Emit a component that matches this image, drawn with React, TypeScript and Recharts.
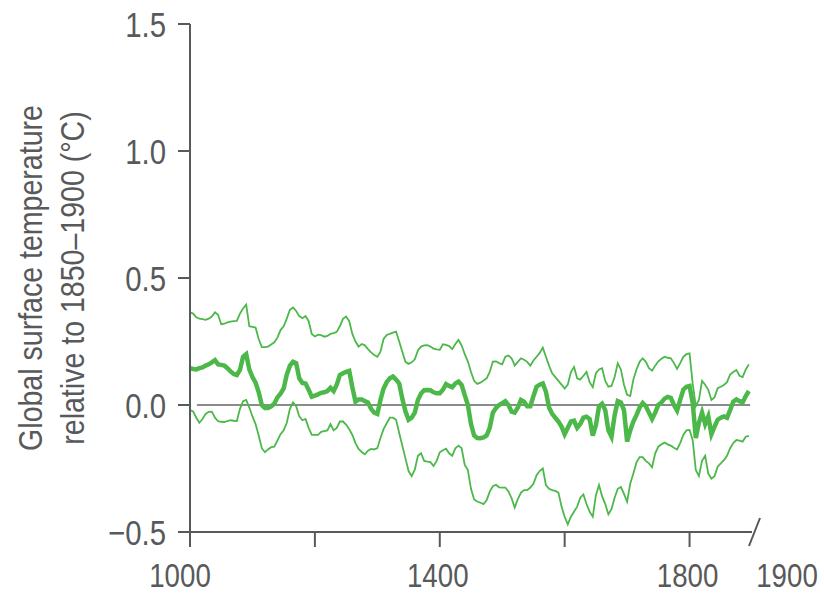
import { Label, Line, LineChart, ReferenceLine, XAxis, YAxis } from "recharts";

const YEARS = Array.from({ length: 180 }, (_, i) => 1000 + i * 5);

const MEDIAN = [
  0.145, 0.142, 0.14, 0.145, 0.148, 0.155, 0.16, 0.168, 0.177, 0.16,
  0.158, 0.155, 0.145, 0.132, 0.122, 0.118, 0.138, 0.19, 0.2, 0.14,
  0.11, 0.088, 0.05, 0.0, -0.012, -0.012, -0.005, 0.005, 0.03, 0.045,
  0.065, 0.12, 0.155, 0.17, 0.165, 0.105, 0.087, 0.085, 0.06, 0.033,
  0.037, 0.042, 0.048, 0.05, 0.055, 0.068, 0.055, 0.08, 0.118, 0.125,
  0.13, 0.134, 0.07, 0.013, 0.022, 0.022, 0.015, 0.01, -0.015, -0.03,
  -0.035, 0.02, 0.065, 0.09, 0.105, 0.112, 0.1, 0.085, 0.025, -0.025,
  -0.058, -0.05, -0.03, 0.02, 0.045, 0.058, 0.059, 0.058, 0.05, 0.046,
  0.046, 0.06, 0.082, 0.075, 0.07, 0.085, 0.092, 0.079, 0.039, 0.0,
  -0.075, -0.12, -0.13, -0.131, -0.128, -0.12, -0.09, -0.03, -0.012, 0.0,
  0.007, 0.015, 0.0, -0.026, -0.03, -0.01, 0.02, 0.013, -0.005, -0.005,
  0.035, 0.072, 0.08, 0.085, 0.052, -0.01, -0.035, -0.05, -0.065, -0.085,
  -0.115, -0.09, -0.065, -0.062, -0.09, -0.075, -0.05, -0.046, -0.055, -0.12,
  -0.08, -0.005, 0.005, -0.02, -0.1, -0.125, -0.04, 0.015, 0.01, -0.02,
  -0.144, -0.1, -0.065, -0.04, -0.01, 0.008, -0.005, -0.03, -0.055, -0.03,
  0.0, 0.01, 0.025, 0.032, 0.028, 0.0, -0.022, 0.02, 0.06, 0.072,
  0.075, 0.01, -0.13, -0.07, -0.03, -0.075, -0.045, -0.115, -0.085, -0.058,
  -0.05, -0.045, -0.05, -0.02, 0.013, 0.022, 0.015, 0.01, 0.035, 0.055,
];

const UPPER = [
  0.365, 0.36, 0.345, 0.34, 0.338, 0.335, 0.34, 0.348, 0.365, 0.355,
  0.318, 0.32, 0.325, 0.328, 0.33, 0.331, 0.36, 0.38, 0.395, 0.31,
  0.308, 0.305, 0.26, 0.228, 0.228, 0.23, 0.238, 0.247, 0.265, 0.295,
  0.31, 0.34, 0.375, 0.384, 0.37, 0.35, 0.342, 0.35, 0.33, 0.28,
  0.27, 0.277, 0.275, 0.269, 0.272, 0.28, 0.283, 0.288, 0.31, 0.339,
  0.348, 0.33, 0.28, 0.25, 0.23, 0.24, 0.235, 0.22, 0.207, 0.197,
  0.19, 0.21, 0.26, 0.276, 0.28, 0.285, 0.289, 0.25, 0.21, 0.17,
  0.162, 0.168, 0.18, 0.215, 0.23, 0.235, 0.236, 0.23, 0.222, 0.219,
  0.217, 0.239, 0.237, 0.232, 0.22, 0.24, 0.256, 0.235, 0.2, 0.171,
  0.13, 0.095, 0.083, 0.088, 0.096, 0.105, 0.13, 0.171, 0.172, 0.165,
  0.16, 0.19, 0.195, 0.184, 0.155, 0.17, 0.184, 0.178, 0.17, 0.155,
  0.175, 0.19, 0.205, 0.226, 0.19, 0.155, 0.125, 0.11, 0.095, 0.08,
  0.065, 0.08, 0.13, 0.15, 0.105, 0.1, 0.115, 0.13, 0.09, 0.07,
  0.125, 0.14, 0.145, 0.095, 0.072, 0.075, 0.11, 0.164, 0.14, 0.08,
  0.04, 0.035, 0.1, 0.14, 0.17, 0.184, 0.17, 0.145, 0.135, 0.155,
  0.172, 0.182, 0.19, 0.186, 0.184, 0.165, 0.142, 0.165, 0.19, 0.2,
  0.203, 0.085, -0.005, 0.02, 0.095, 0.08, 0.06, 0.02, 0.03, 0.066,
  0.072, 0.079, 0.09, 0.12, 0.13, 0.138, 0.115, 0.11, 0.14, 0.16,
];

const LOWER = [
  -0.02, -0.025, -0.05, -0.07, -0.055, -0.035, -0.027, -0.026, -0.05, -0.064,
  -0.066, -0.067, -0.063, -0.06, -0.062, -0.063, -0.015, 0.015, 0.02, -0.01,
  -0.045, -0.075, -0.12, -0.17, -0.186, -0.175, -0.166, -0.164, -0.14, -0.115,
  -0.1, -0.07, -0.015, 0.01, -0.005, -0.045, -0.06, -0.055, -0.09, -0.118,
  -0.118, -0.118, -0.106, -0.103, -0.1, -0.075, -0.1, -0.09, -0.065, -0.065,
  -0.077, -0.095, -0.118, -0.15, -0.173, -0.185, -0.194, -0.18, -0.173, -0.175,
  -0.17, -0.13, -0.095, -0.072, -0.05, -0.05, -0.058, -0.11, -0.16, -0.21,
  -0.26, -0.28, -0.255, -0.2, -0.19, -0.22, -0.223, -0.225, -0.24, -0.22,
  -0.186, -0.178, -0.172, -0.19, -0.2, -0.17, -0.16, -0.17, -0.236, -0.256,
  -0.33, -0.372, -0.38, -0.385, -0.39, -0.375, -0.341, -0.32, -0.314, -0.324,
  -0.325, -0.325, -0.34, -0.367, -0.404, -0.37, -0.345, -0.335, -0.335, -0.325,
  -0.31, -0.276, -0.26, -0.25, -0.315, -0.33, -0.335, -0.338, -0.345, -0.4,
  -0.44, -0.47, -0.44, -0.42, -0.4, -0.365, -0.352, -0.39, -0.42, -0.44,
  -0.355, -0.315, -0.36, -0.39, -0.43, -0.41, -0.365, -0.33, -0.323, -0.35,
  -0.381, -0.31, -0.27, -0.226, -0.205, -0.205, -0.22, -0.23, -0.245, -0.19,
  -0.164, -0.155, -0.148, -0.155, -0.16, -0.168, -0.175, -0.15, -0.118, -0.1,
  -0.098, -0.138, -0.256, -0.28, -0.22, -0.2, -0.27, -0.29, -0.28, -0.243,
  -0.23, -0.217, -0.2, -0.17, -0.15, -0.138, -0.14, -0.144, -0.125, -0.122,
];

const Y_TICKS = [-0.5, 0, 0.5, 1, 1.5];
const Y_TICK_LABELS = ["\u22120.5", "0.0", "0.5", "1.0", "1.5"];
const X_TICKS = [1000, 1200, 1400, 1600, 1800, 1900];
const X_LABELLED = [1000, 1400, 1800];

const GREEN = "#4cb84a";
const AXIS = "#58595b";
const FONT = "'Liberation Sans', Arial, sans-serif";
// the original uses a narrow face; squeeze the regular one horizontally
const NARROW = 0.84;

function NarrowText({ x, y, size, anchor = "middle", rotate = 0, baseline, children }: any) {
  return (
    <text
      transform={`translate(${x} ${y}) rotate(${rotate}) scale(${NARROW} 1)`}
      x={0}
      y={0}
      textAnchor={anchor}
      dominantBaseline={baseline}
      fill={AXIS}
      fontSize={size}
      fontFamily={FONT}
    >
      {children}
    </text>
  );
}

const data = YEARS.map((year, i) => ({
  year,
  median: MEDIAN[i],
  upper: UPPER[i],
  lower: LOWER[i],
}));

function YTick({ x, y, payload }: any) {
  const idx = Y_TICKS.indexOf(payload.value);
  return (
    <g>
      <line x1={x - 12} x2={x} y1={y} y2={y} stroke={AXIS} strokeWidth={2} />
      <NarrowText x={x - 24} y={y + 12.5} size={35} anchor="end">
        {Y_TICK_LABELS[idx]}
      </NarrowText>
    </g>
  );
}

function XTick({ x, y, payload }: any) {
  const v = payload.value;
  if (v === 1900) {
    return (
      <g>
        <line x1={x - 3} y1={y + 14} x2={x + 8} y2={y - 14} stroke={AXIS} strokeWidth={2} />
        <NarrowText x={x + 35} y={y + 55} size={33}>
          {v}
        </NarrowText>
      </g>
    );
  }
  return (
    <g>
      <line x1={x} x2={x} y1={y} y2={y + 15} stroke={AXIS} strokeWidth={2} />
      {X_LABELLED.includes(v) && (
        <NarrowText x={v === 1000 ? x - 10 : x - 2} y={y + 55} size={33}>
          {v}
        </NarrowText>
      )}
    </g>
  );
}

function YTitle({ viewBox }: any) {
  const cy = viewBox.y + viewBox.height / 2;
  return (
    <g>
      <NarrowText x={31} y={cy} size={34} rotate={-90} baseline="central">
        Global surface temperature
      </NarrowText>
      <NarrowText x={73} y={cy} size={34} rotate={-90} baseline="central">
        relative to 1850–1900 (°C)
      </NarrowText>
    </g>
  );
}

export default function App() {
  return (
    <div style={{ position: "absolute", left: 0, top: 0, width: 824, height: 593, background: "#fff" }}>
      <LineChart width={824} height={593} data={data} margin={{ top: 24, right: 72, bottom: 0, left: 0 }}>
        <XAxis
          dataKey="year"
          type="number"
          domain={[1000, 1900]}
          ticks={X_TICKS}
          tick={<XTick />}
          tickLine={false}
          tickSize={0}
          tickMargin={0}
          height={61}
          axisLine={{ stroke: AXIS, strokeWidth: 2 }}
          interval={0}
        />
        <YAxis
          type="number"
          domain={[-0.5, 1.5]}
          ticks={Y_TICKS}
          tick={<YTick />}
          tickLine={false}
          tickSize={0}
          tickMargin={0}
          width={190}
          axisLine={{ stroke: AXIS, strokeWidth: 2 }}
          interval={0}
        >
          <Label content={<YTitle />} />
        </YAxis>
        <ReferenceLine
          segment={[
            { x: 1011, y: 0 },
            { x: 1897, y: 0 },
          ]}
          stroke="#8a8b8d"
          strokeWidth={2}
        />
        <Line dataKey="upper" stroke={GREEN} strokeWidth={1.8} dot={false} isAnimationActive={false} />
        <Line dataKey="lower" stroke={GREEN} strokeWidth={1.8} dot={false} isAnimationActive={false} />
        <Line dataKey="median" stroke={GREEN} strokeWidth={4.5} dot={false} isAnimationActive={false} />
      </LineChart>
    </div>
  );
}
